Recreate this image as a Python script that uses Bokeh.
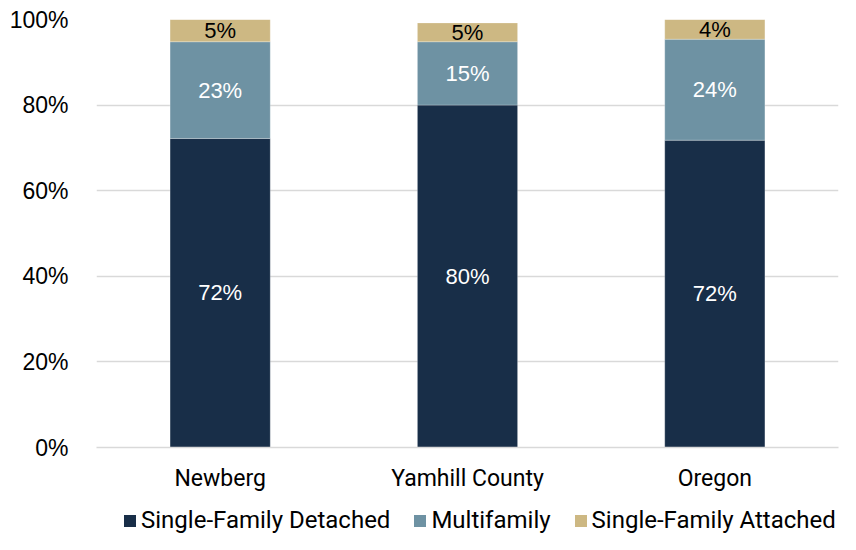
from bokeh.plotting import figure
from bokeh.models import ColumnDataSource, Legend, LegendItem, FixedTicker, Range1d, LabelSet
from bokeh.layouts import column
from bokeh.core.properties import value
from bokeh.embed import file_html
from bokeh.resources import INLINE

categories = ["Newberg", "Yamhill County", "Oregon"]
series_names = ["Single-Family Detached", "Multifamily", "Single-Family Attached"]
detached = [72.2, 80.0, 71.8]
multifamily = [22.6, 14.8, 23.6]
attached = [5.2, 4.4, 4.6]
detached_labels = ["72%", "80%", "72%"]
multifamily_labels = ["23%", "15%", "24%"]
attached_labels = ["5%", "5%", "4%"]
y_ticks = [0, 20, 40, 60, 80, 100]

colors = ["#182E48", "#6E92A3", "#CDB883"]
label_colors = ["white", "white", "black"]
CAT_FONT = "Roboto"
NUM_FONT = "Liberation Sans"

p = figure(x_range=categories, y_range=Range1d(0, 100),
           frame_width=742, frame_height=428,
           output_backend="svg", toolbar_location=None)
p.min_border_left = 96
p.min_border_right = 2
p.min_border_top = 19
p.min_border_bottom = 44
p.outline_line_color = None
p.background_fill_color = "white"
p.border_fill_color = "white"

src = ColumnDataSource(dict(
    cat=categories,
    dl=detached_labels, ml=multifamily_labels, al=attached_labels,
))
src.data["d_bot"] = [0] * 3
src.data["d_top"] = detached
src.data["m_bot"] = detached
src.data["m_top"] = [d + m for d, m in zip(detached, multifamily)]
src.data["a_bot"] = src.data["m_top"]
src.data["a_top"] = [d + m + a for d, m, a in zip(detached, multifamily, attached)]
for k in ["d", "m", "a"]:
    src.data[k + "_mid"] = [(b + t) / 2 for b, t in zip(src.data[k + "_bot"], src.data[k + "_top"])]

for key, col in zip(["d", "m", "a"], colors):
    p.vbar(x="cat", bottom=key + "_bot", top=key + "_top", width=0.405, source=src,
           fill_color=col, line_color="#ffffff", line_width=0.5, line_alpha=0.5)

for key, tc in zip(["d", "m", "a"], label_colors):
    lab = LabelSet(x="cat", y=key + "_mid", text=key + "l", source=src,
                   text_align="center", text_baseline="middle",
                   text_color=tc, text_font=value(NUM_FONT), text_font_size="22px")
    p.add_layout(lab)

p.yaxis.ticker = FixedTicker(ticks=y_ticks)
p.yaxis.major_label_overrides = {t: f"{t}%" for t in y_ticks}
p.yaxis.axis_line_color = None
p.yaxis.major_tick_line_color = None
p.yaxis.minor_tick_line_color = None
p.yaxis.major_label_text_font = NUM_FONT
p.yaxis.major_label_text_font_size = "23px"
p.yaxis.major_label_text_color = "#000000"
p.yaxis.major_label_standoff = 22

p.xaxis.axis_line_color = "#d9d9d9"
p.xaxis.axis_line_width = 1.5
p.xaxis.major_tick_line_color = None
p.xaxis.minor_tick_line_color = None
p.xaxis.major_label_text_font = CAT_FONT
p.xaxis.major_label_text_font_size = "23px"
p.xaxis.major_label_text_color = "#000000"
p.xaxis.major_label_standoff = 11

p.xgrid.grid_line_color = None
p.ygrid.grid_line_color = "#d9d9d9"
p.ygrid.grid_line_width = 1.5
p.x_range.range_padding = 0.0

# legend strip (separate figure so the legend is not clipped by the chart frame)
p2 = figure(frame_width=840, frame_height=43, x_range=Range1d(0, 1), y_range=Range1d(0, 1),
            output_backend="svg", toolbar_location=None,
            x_axis_location=None, y_axis_location=None)
p2.min_border_left = 0
p2.min_border_right = 0
p2.min_border_top = 0
p2.min_border_bottom = 0
p2.outline_line_color = None
p2.xgrid.grid_line_color = None
p2.ygrid.grid_line_color = None
p2.background_fill_color = "white"
p2.border_fill_color = "white"

# zero-size swatch renderers: only their colours are used by the legend
leg_src = ColumnDataSource(dict(x=[0.5], bottom=[0], top=[0]))
leg_renderers = []
for col in colors:
    r = p2.vbar(x="x", bottom="bottom", top="top", width=0, source=leg_src,
                fill_color=col, line_color=col, line_alpha=0)
    leg_renderers.append(r)

legend = Legend(items=[LegendItem(label=n, renderers=[r]) for n, r in zip(series_names, leg_renderers)],
                orientation="horizontal", location=(122, 3))
legend.label_text_font = CAT_FONT
legend.label_text_font_size = "24px"
legend.label_text_color = "#000000"
legend.glyph_width = 15
legend.glyph_height = 15
legend.label_standoff = 4
legend.spacing = 22
legend.padding = 0
legend.margin = 0
legend.border_line_color = None
legend.background_fill_alpha = 0
p2.add_layout(legend, "center")

layout = column(p, p2, spacing=0)
open("out.html", "w").write(file_html(layout, INLINE))
